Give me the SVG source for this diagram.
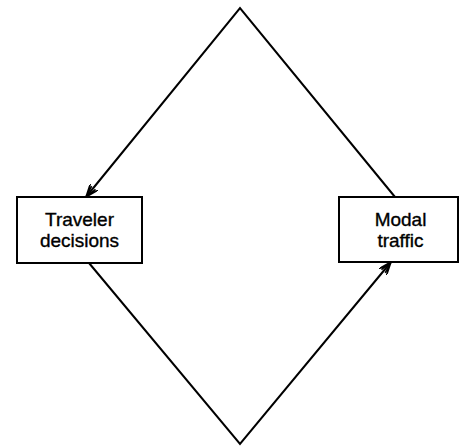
<svg xmlns="http://www.w3.org/2000/svg" width="460" height="446" viewBox="0 0 460 446">
<style>
.box{fill:#fff;stroke:#000;stroke-width:2}
.lbl{font-family:"Liberation Sans",Arial,sans-serif;font-size:19px;text-anchor:middle;fill:#000;stroke:#000;stroke-width:0.35}
.edge{fill:none;stroke:#000;stroke-width:2}
</style>
<defs>
<marker id="arr" viewBox="0 0 14 10" refX="13" refY="5" markerWidth="14" markerHeight="10" markerUnits="userSpaceOnUse" orient="auto">
<path d="M0,0 L13,5 L0,10 M1,2.5 L13,5 L1,7.5" fill="none" stroke="#000" stroke-width="1.6"/>
</marker>
</defs>
<g id="connectors">
<polyline class="edge" points="395,197 240,8 86,197" marker-end="url(#arr)"/>
<polyline class="edge" points="89,263 240,444 391,262" marker-end="url(#arr)"/>
</g>
<g id="traveler">
<rect class="box" x="17" y="197" width="125" height="66"/>
<text class="lbl" x="79.5" y="225.5">Traveler</text>
<text class="lbl" x="79.5" y="246.5">decisions</text>
</g>
<g id="modal">
<rect class="box" x="339" y="197" width="119" height="65"/>
<text class="lbl" x="400.5" y="225.5">Modal</text>
<text class="lbl" x="400.5" y="246.5">traffic</text>
</g>
</svg>
